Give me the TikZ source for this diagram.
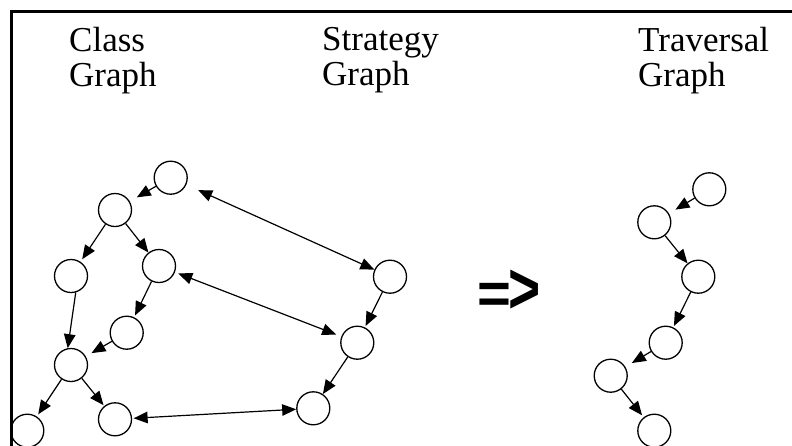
\documentclass[tikz,border=0pt]{standalone}
\usepackage{fontspec}
\setmainfont{Liberation Serif}
\newfontfamily\arrowfont{Liberation Sans}
\usetikzlibrary{arrows.meta}
\begin{document}
\begin{tikzpicture}[x=1pt,y=-1pt,
  vtx/.style={circle,draw,line width=1.3pt,minimum size=33pt,inner sep=0pt},
  edge/.style={line width=1.2pt,-{Triangle[length=14pt,width=11.5pt]}},
  bedge/.style={line width=1.2pt,{Triangle[length=14pt,width=11.5pt]}-{Triangle[length=14pt,width=11.5pt]}},
  title/.style={font=\fontsize{35}{35}\selectfont,align=left,anchor=north west,inner sep=0pt}]
\useasboundingbox (0,0) rectangle (792,445);
\draw[line width=3pt,line join=miter] (11,446) -- (11,11) -- (793,11);
% titles
\node[title] (tc) at (69,27) {Class\\Graph};
\node[title] (ts) at (322,27) {Strategy\\Graph};
\node[title] (tt) at (638,27) {Traversal\\Graph};
% class graph
\node[vtx] (A) at (170.7,177.7) {};
\node[vtx] (B) at (115,210) {};
\node[vtx] (C) at (71,276) {};
\node[vtx] (D) at (159,266) {};
\node[vtx] (E) at (126.7,332.7) {};
\node[vtx] (F) at (71,365) {};
\node[vtx] (G) at (27.3,430.7) {};
\node[vtx] (H) at (115,419.3) {};
% strategy graph
\node[vtx] (S1) at (390,276.7) {};
\node[vtx] (S2) at (357.3,342.7) {};
\node[vtx] (S3) at (313.3,408.3) {};
% traversal graph
\node[vtx] (T1) at (709.3,189.3) {};
\node[vtx] (T2) at (654.3,222.3) {};
\node[vtx] (T3) at (698.3,276.7) {};
\node[vtx] (T4) at (665.7,342.7) {};
\node[vtx] (T5) at (610.7,375.7) {};
\node[vtx] (T6) at (654.3,430.7) {};
% arrow symbol
\node[inner sep=0pt,font=\arrowfont\bfseries\fontsize{58}{58}\selectfont] (imp) at (509,292) {=\kern-3pt\scalebox{0.95}[1.25]{>}};
% class edges
\draw[edge,shorten >=8pt] (A) -- (B);
\draw[edge,shorten >=3pt] (B) -- (C);
\draw[edge] (B) -- (D);
\draw[edge,shorten >=2pt] (D) -- (E);
\draw[edge] (C.-74) -- (F.101);
\draw[edge,shorten >=6.5pt] (E) -- (F);
\draw[edge,shorten >=2.5pt] (F) -- (G);
\draw[edge,shorten >=1pt] (F) -- (H);
% correspondence edges
\draw[bedge,shorten <=13pt] (A) -- (S1);
\draw[bedge,shorten <=3.5pt,shorten >=5.5pt] (D) -- (S2);
\draw[bedge,shorten <=1.5pt] (H) -- (S3);
% strategy edges
\draw[edge,shorten >=1.5pt] (S1) -- (S2);
\draw[edge] (S2) -- (S3);
% traversal edges
\draw[edge,shorten >=7.5pt] (T1) -- (T2);
\draw[edge] (T2) -- (T3);
\draw[edge,shorten >=1.5pt] (T3) -- (T4);
\draw[edge,shorten >=7.5pt] (T4) -- (T5);
\draw[edge,shorten >=2.5pt] (T5) -- (T6);
\end{tikzpicture}
\end{document}
